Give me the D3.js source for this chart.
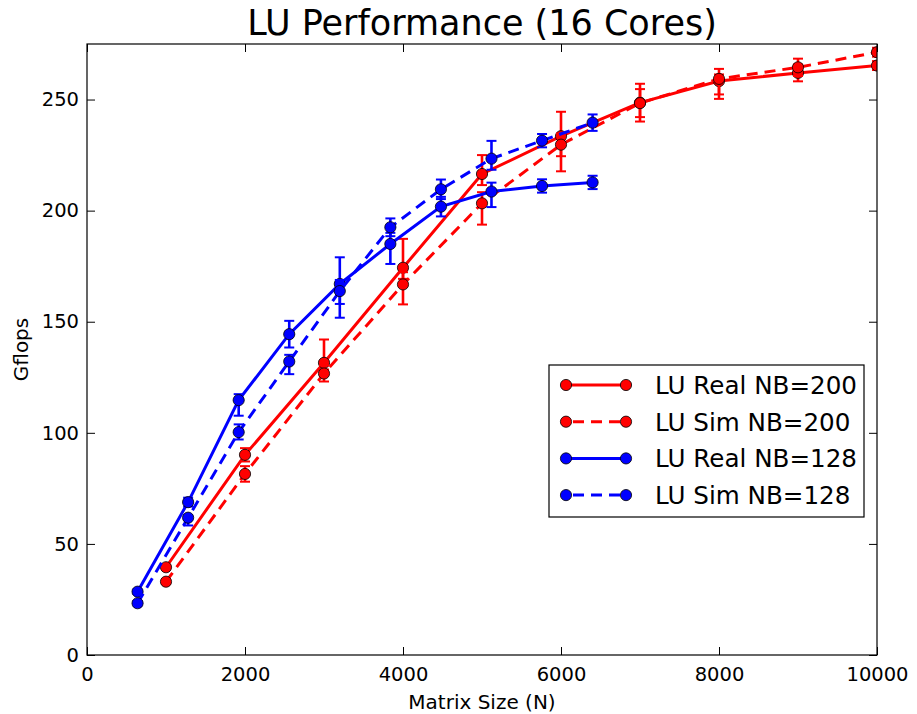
<!DOCTYPE html>
<html>
<head>
<meta charset="utf-8">
<script src="https://cdn.jsdelivr.net/npm/d3@7"></script>
<style>
  html, body { margin: 0; padding: 0; background: #fff; }
  svg { display: block; font-family: "DejaVu Sans", sans-serif; }
</style>
</head>
<body>
<svg id="chart" width="917" height="714"></svg>
<script>
// Matrix sizes for the two block sizes
const sizesNB200 = [1000, 2000, 3000, 4000, 5000, 6000, 7000, 8000, 9000, 10000];
const sizesNB128 = [640, 1280, 1920, 2560, 3200, 3840, 4480, 5120, 5760, 6400];

// Measured / simulated Gflops
const realNB200 = [39.5, 90.1, 131.5, 174.3, 216.5, 233.5, 248.6, 258.3, 262.0, 265.3];
const simNB200  = [33.0, 81.5, 126.7, 166.8, 203.3, 229.7, 248.4, 259.3, 264.5, 271.3];
const realNB128 = [28.5, 68.8, 114.7, 144.4, 167.0, 185.0, 201.8, 208.6, 211.1, 212.7];
const simNB128  = [23.3, 61.8, 100.3, 132.1, 163.8, 192.5, 209.6, 223.4, 231.5, 239.6];

// Error bar extents below / above each value
const realNB200Lo = [1, 3, 3, 5, 5, 9, 8.5, 8, 3.8, 2];
const realNB200Hi = [1, 3, 10.5, 13, 8.5, 11, 8.5, 3, 3.8, 2];
const simNB200Lo  = [1, 3.5, 3.6, 9, 9.6, 12, 6.3, 7, 3.9, 2];
const simNB200Hi  = [1, 3.5, 3.6, 5.5, 5, 5, 6.3, 4.5, 3.9, 2];
const realNB128Lo = [1, 2, 7, 6, 9, 9, 4.4, 7, 3, 3];
const realNB128Hi = [1, 2, 2.7, 6, 12, 5, 4.4, 4, 3, 3];
const simNB128Lo  = [1, 3.5, 3.3, 5.7, 12, 4, 4.4, 5, 3, 3.7];
const simNB128Hi  = [1, 1, 3.5, 3, 5, 4, 4.4, 8, 3, 3.7];

const seriesNames = ["LU Real NB=200", "LU Sim NB=200", "LU Real NB=128", "LU Sim NB=128"];
const xTicks = [0, 2000, 4000, 6000, 8000, 10000];
const yTicks = [0, 50, 100, 150, 200, 250];

const series = [
  { name: seriesNames[0], xs: sizesNB200, ys: realNB200, lo: realNB200Lo, hi: realNB200Hi, color: "#ff0000", dashed: false },
  { name: seriesNames[1], xs: sizesNB200, ys: simNB200,  lo: simNB200Lo,  hi: simNB200Hi,  color: "#ff0000", dashed: true },
  { name: seriesNames[2], xs: sizesNB128, ys: realNB128, lo: realNB128Lo, hi: realNB128Hi, color: "#0000ff", dashed: false },
  { name: seriesNames[3], xs: sizesNB128, ys: simNB128,  lo: simNB128Lo,  hi: simNB128Hi,  color: "#0000ff", dashed: true }
];

const svg = d3.select("#chart");
const m = { left: 87, right: 877, top: 44, bottom: 655 };
const x = d3.scaleLinear().domain([0, 10000]).range([m.left, m.right]);
const y = d3.scaleLinear().domain([0, 275]).range([m.bottom, m.top]);

svg.append("defs").append("clipPath").attr("id", "plotclip")
  .append("rect").attr("x", m.left).attr("y", m.top)
  .attr("width", m.right - m.left).attr("height", m.bottom - m.top);

// Axes with inward ticks on all four sides
const tickLen = 8;
const gx = svg.append("g").attr("transform", `translate(0,${m.bottom})`)
  .call(d3.axisBottom(x).tickValues(xTicks).tickFormat(d3.format("d")).tickSize(-tickLen).tickPadding(12));
const gxTop = svg.append("g").attr("transform", `translate(0,${m.top})`)
  .call(d3.axisTop(x).tickValues(xTicks).tickFormat("").tickSize(-tickLen));
const gy = svg.append("g").attr("transform", `translate(${m.left},0)`)
  .call(d3.axisLeft(y).tickValues(yTicks).tickFormat(d3.format("d")).tickSize(-tickLen).tickPadding(8));
const gyRight = svg.append("g").attr("transform", `translate(${m.right},0)`)
  .call(d3.axisRight(y).tickValues(yTicks).tickFormat("").tickSize(-tickLen));

[gx, gxTop, gy, gyRight].forEach(g => {
  g.select(".domain").remove();
  g.selectAll(".tick line").attr("stroke", "#000").attr("stroke-width", 1);
  g.selectAll(".tick text").attr("font-family", "DejaVu Sans").attr("font-size", 19.5).attr("fill", "#000");
});

const plot = svg.append("g").attr("clip-path", "url(#plotclip)");

const line = d3.line().x(d => x(d[0])).y(d => y(d[1]));
const capHalf = 5;
const markerR = 5.6;

series.forEach(s => {
  const g = plot.append("g");
  const pts = s.xs.map((v, i) => [v, s.ys[i], s.lo[i], s.hi[i]]);
  // error bars
  pts.forEach(p => {
    const px = x(p[0]);
    const y0 = y(p[1] - p[2]), y1 = y(p[1] + p[3]);
    g.append("line").attr("x1", px).attr("x2", px).attr("y1", y0).attr("y2", y1)
      .attr("stroke", s.color).attr("stroke-width", 2.6);
    [y0, y1].forEach(cy => g.append("line")
      .attr("x1", px - capHalf).attr("x2", px + capHalf).attr("y1", cy).attr("y2", cy)
      .attr("stroke", s.color).attr("stroke-width", 2));
  });
  g.append("path").datum(pts).attr("d", line)
    .attr("fill", "none").attr("stroke", s.color).attr("stroke-width", 3)
    .attr("stroke-dasharray", s.dashed ? "11,7" : null);
  g.selectAll("circle").data(pts).join("circle")
    .attr("cx", d => x(d[0])).attr("cy", d => y(d[1])).attr("r", markerR)
    .attr("fill", s.color).attr("stroke", "#000").attr("stroke-width", 0.8);
});

// Frame
svg.append("rect").attr("x", m.left).attr("y", m.top)
  .attr("width", m.right - m.left).attr("height", m.bottom - m.top)
  .attr("fill", "none").attr("stroke", "#000").attr("stroke-width", 1.2);

// Title and axis labels
svg.append("text").attr("x", (m.left + m.right) / 2).attr("y", 35)
  .attr("text-anchor", "middle").attr("font-size", 35).attr("fill", "#000")
  .text("LU Performance (16 Cores)");
svg.append("text").attr("x", (m.left + m.right) / 2).attr("y", 709)
  .attr("text-anchor", "middle").attr("font-size", 20).attr("fill", "#000")
  .text("Matrix Size (N)");
svg.append("text").attr("transform", `translate(28,${(m.top + m.bottom) / 2}) rotate(-90)`)
  .attr("text-anchor", "middle").attr("font-size", 20).attr("fill", "#000")
  .text("Gflops");

// Legend
const lg = svg.append("g");
lg.append("rect").attr("x", 549).attr("y", 365).attr("width", 315).attr("height", 152)
  .attr("fill", "#fff").attr("stroke", "#000").attr("stroke-width", 1.2);
series.forEach((s, i) => {
  const cy = 385 + i * 36.7;
  lg.append("line").attr("x1", 566).attr("x2", 626).attr("y1", cy).attr("y2", cy)
    .attr("stroke", s.color).attr("stroke-width", 3)
    .attr("stroke-dasharray", s.dashed ? "11,7" : null)
    .attr("stroke-dashoffset", s.dashed ? -7 : 0);
  [566, 626].forEach(cx => lg.append("circle").attr("cx", cx).attr("cy", cy).attr("r", markerR)
    .attr("fill", s.color).attr("stroke", "#000").attr("stroke-width", 0.8));
  lg.append("text").attr("x", 655).attr("y", cy + 9).attr("font-size", 24.6).attr("fill", "#000")
    .text(s.name);
});
</script>
</body>
</html>
